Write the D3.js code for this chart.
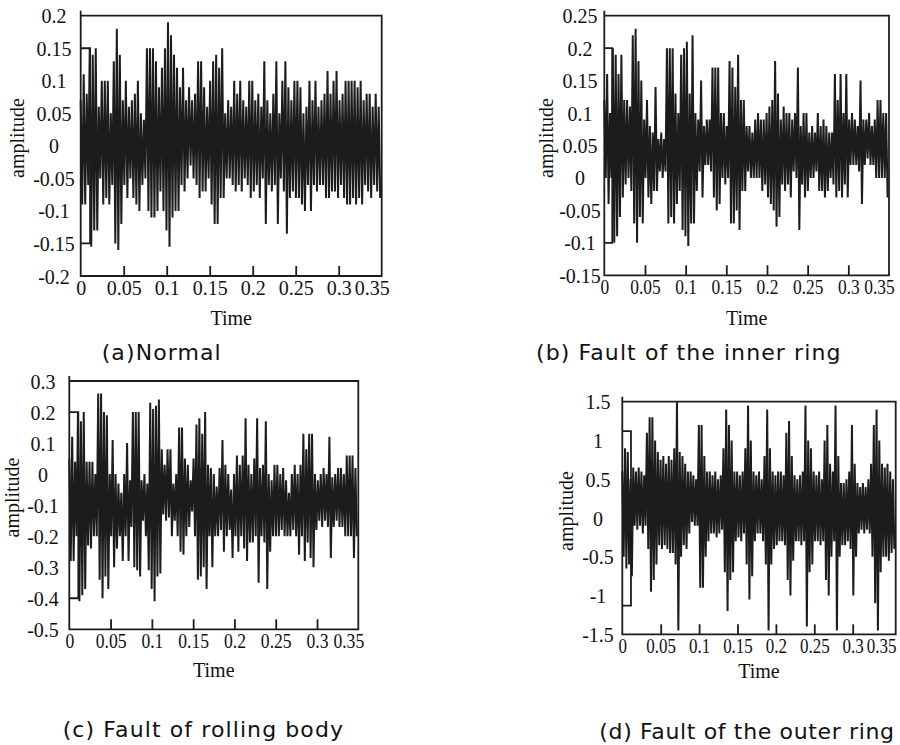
<!DOCTYPE html>
<html>
<head>
<meta charset="utf-8">
<script src="https://cdn.jsdelivr.net/npm/d3@7"></script>
<style>
  body { margin: 0; background: #fff; }
  svg { display: block; }
</style>
</head>
<body>
<div id="chart"></div>
<script>
// Signal envelopes, one hi/lo pair per column
const normalHi = [0.07,0.11,0.08,0.15,0.14,0.15,0.06,0.10,0.10,0.10, 0.05,0.13,0.18,0.14,0.07,0.10,0.06,0.07,0.08,0.10, 0.05,0.04,0.15,0.15,0.15,0.13,0.09,0.12,0.15,0.19, 0.17,0.14,0.12,0.09,0.12,0.07,0.09,0.07,0.08,0.13, 0.13,0.09,0.06,0.10,0.13,0.14,0.12,0.15,0.05,0.07, 0.06,0.10,0.08,0.10,0.07,0.06,0.10,0.10,0.07,0.08, 0.06,0.13,0.07,0.05,0.08,0.13,0.05,0.10,0.13,0.09, 0.07,0.10,0.10,0.09,0.05,0.06,0.10,0.07,0.10,0.06, 0.07,0.08,0.115,0.08,0.10,0.115,0.07,0.08,0.10,0.10, 0.10,0.10,0.09,0.10,0.07,0.08,0.08,0.06,0.08,0.06];
const normalLo = [-0.09,-0.09,-0.06,-0.155,-0.13,-0.13,-0.05,-0.09,-0.08,-0.09, -0.06,-0.15,-0.16,-0.12,-0.06,-0.08,-0.05,-0.08,-0.09,-0.10, -0.06,-0.05,-0.10,-0.11,-0.11,-0.10,-0.07,-0.10,-0.13,-0.155, -0.11,-0.10,-0.10,-0.06,-0.07,-0.05,-0.03,-0.05,-0.06,-0.08, -0.07,-0.07,-0.05,-0.09,-0.12,-0.12,-0.08,-0.08,-0.05,-0.05, -0.06,-0.07,-0.06,-0.07,-0.05,-0.06,-0.08,-0.07,-0.06,-0.08, -0.05,-0.12,-0.06,-0.07,-0.06,-0.12,-0.05,-0.07,-0.135,-0.08, -0.07,-0.08,-0.08,-0.09,-0.10,-0.06,-0.10,-0.06,-0.07,-0.06, -0.06,-0.08,-0.08,-0.07,-0.07,-0.08,-0.06,-0.08,-0.09,-0.09, -0.08,-0.09,-0.08,-0.09,-0.06,-0.07,-0.08,-0.06,-0.07,-0.08];

const innerHi = [0.12,0.16,0.10,0.20,0.19,0.16,0.19,0.12,0.12,0.11, 0.22,0.23,0.18,0.15,0.09,0.12,0.08,0.07,0.14,0.06, 0.07,0.06,0.20,0.20,0.20,0.13,0.10,0.19,0.20,0.21, 0.13,0.22,0.10,0.09,0.15,0.08,0.09,0.09,0.17,0.17, 0.17,0.10,0.10,0.08,0.18,0.17,0.14,0.19,0.12,0.12, 0.08,0.08,0.07,0.09,0.10,0.09,0.09,0.10,0.11,0.12, 0.18,0.13,0.09,0.11,0.10,0.10,0.09,0.10,0.17,0.08, 0.10,0.10,0.07,0.08,0.07,0.10,0.08,0.09,0.08,0.07, 0.07,0.16,0.12,0.16,0.10,0.16,0.09,0.10,0.09,0.08, 0.15,0.09,0.09,0.10,0.08,0.09,0.12,0.12,0.10,0.10];
const innerLo = [0.00,-0.04,0.00,-0.10,-0.09,-0.06,-0.03,-0.01,0.00,-0.02, -0.07,-0.10,-0.06,-0.07,0.00,-0.03,-0.04,-0.02,-0.02,0.01, 0.00,0.01,-0.07,-0.06,-0.07,-0.04,-0.02,-0.08,-0.09,-0.105, -0.07,-0.07,-0.02,0.01,-0.03,0.02,0.02,0.01,-0.03,-0.05, -0.04,0.00,-0.01,0.00,-0.07,-0.07,-0.05,-0.08,-0.02,-0.02, 0.01,0.00,0.00,0.00,0.00,-0.02,-0.01,-0.03,-0.04,-0.05, -0.075,-0.06,-0.01,-0.02,-0.01,-0.03,0.01,0.00,-0.08,-0.01, -0.03,-0.02,0.00,0.00,0.01,-0.02,-0.02,-0.03,-0.02,0.00, -0.01,-0.03,-0.02,-0.03,-0.01,-0.03,0.02,0.02,0.02,0.01, -0.04,0.02,0.03,0.02,0.02,0.00,0.00,0.00,0.00,-0.03];

const rollingHi = [0.05,0.12,0.04,0.20,0.17,0.20,0.04,0.04,0.04,0.00, 0.26,0.26,0.20,0.19,0.00,0.11,0.00,-0.03,-0.06,0.00, 0.10,-0.02,0.20,0.20,0.20,-0.02,0.00,-0.03,0.23,0.21, 0.22,0.24,0.08,0.03,0.08,0.08,-0.03,0.00,0.15,0.15, 0.05,0.03,-0.02,0.05,0.16,0.18,0.13,0.20,0.03,0.02, 0.00,-0.04,0.02,0.11,0.03,0.00,-0.05,0.00,0.06,0.03, 0.06,0.18,0.03,0.00,0.05,0.18,0.02,0.03,0.17,0.00, -0.02,0.03,0.03,0.00,0.02,-0.02,-0.06,0.00,0.03,0.00, 0.03,0.13,0.08,0.13,0.13,0.00,-0.02,0.00,0.02,0.00, 0.12,-0.01,0.00,0.02,0.02,0.00,0.06,0.06,0.06,0.02];
const rollingLo = [-0.28,-0.28,-0.20,-0.41,-0.39,-0.37,-0.23,-0.24,-0.20,-0.20, -0.34,-0.40,-0.33,-0.37,-0.20,-0.30,-0.24,-0.20,-0.28,-0.20, -0.28,-0.17,-0.30,-0.31,-0.33,-0.15,-0.20,-0.31,-0.37,-0.41, -0.33,-0.32,-0.13,-0.15,-0.14,-0.20,-0.15,-0.20,-0.25,-0.26, -0.20,-0.17,-0.12,-0.20,-0.34,-0.33,-0.30,-0.37,-0.20,-0.30, -0.20,-0.20,-0.18,-0.25,-0.20,-0.18,-0.27,-0.20,-0.25,-0.20, -0.24,-0.28,-0.22,-0.22,-0.20,-0.35,-0.20,-0.22,-0.37,-0.25, -0.20,-0.20,-0.20,-0.18,-0.20,-0.20,-0.20,-0.18,-0.20,-0.26, -0.20,-0.28,-0.22,-0.27,-0.30,-0.18,-0.15,-0.17,-0.15,-0.17, -0.27,-0.17,-0.15,-0.17,-0.17,-0.20,-0.20,-0.20,-0.27,-0.20];

const outerHi = [0.60,0.90,0.85,0.50,0.65,0.60,0.65,0.60,0.55,1.10, 1.30,1.30,1.00,0.85,0.75,0.80,0.70,0.80,0.75,0.90, 1.50,0.85,0.80,0.70,0.60,0.60,0.55,0.50,1.20,1.20, 0.80,0.60,0.60,0.55,0.60,0.50,0.55,0.90,1.40,1.20, 1.00,0.60,0.60,0.55,0.60,0.90,1.45,1.00,0.60,0.55, 0.60,0.50,0.80,1.40,0.90,0.60,0.55,0.60,0.60,0.55, 1.10,1.25,0.80,0.55,0.50,0.55,0.60,1.45,1.00,0.90, 0.60,0.55,0.60,0.50,1.00,1.20,0.70,0.60,1.45,0.80, 0.45,0.45,0.50,0.60,1.20,0.70,0.45,0.40,0.45,0.40, 0.50,0.70,1.20,1.40,1.00,0.70,0.65,0.70,0.60,0.50];
const outerLo = [-0.50,-0.65,-0.60,-0.75,-0.10,-0.15,-0.10,-0.20,-0.10,-0.40, -0.95,-0.80,-0.60,-0.35,-0.40,-0.35,-0.40,-0.45,-0.45,-0.60, -1.45,-0.50,-0.35,-0.40,-0.20,-0.05,-0.10,-0.10,-0.90,-0.90, -0.50,-0.30,-0.20,-0.20,-0.25,-0.20,-0.15,-0.70,-1.20,-0.80, -0.70,-0.30,-0.25,-0.30,-0.20,-0.60,-1.05,-0.75,-0.30,-0.20, -0.20,-0.30,-0.60,-1.45,-0.60,-0.40,-0.35,-0.30,-0.30,-0.35, -0.80,-1.00,-0.55,-0.30,-0.30,-0.35,-0.30,-1.40,-0.70,-0.60, -0.30,-0.30,-0.35,-0.30,-0.80,-1.00,-0.50,-0.30,-1.45,-0.50, -0.35,-0.35,-0.30,-0.40,-1.00,-0.50,-0.20,-0.15,-0.20,-0.15, -0.20,-0.50,-1.10,-1.45,-0.70,-0.50,-0.50,-0.55,-0.45,-0.40];

// first-sample bracket: [top, bottom, end time]
const normalStart = [0.15, -0.15, 0.0109];
const innerStart = [0.20, -0.10, 0.0098];
const rollingStart = [0.20, -0.40, 0.0109];
const outerStart = [1.12, -1.13, 0.0113];

const timeTicks = [0, 0.05, 0.1, 0.15, 0.2, 0.25, 0.3, 0.35];
const normalTicks = [0.2, 0.15, 0.1, 0.05, 0, -0.05, -0.1, -0.15, -0.2];
const innerTicks = [0.25, 0.2, 0.15, 0.1, 0.05, 0, -0.05, -0.1, -0.15];
const rollingTicks = [0.3, 0.2, 0.1, 0, -0.1, -0.2, -0.3, -0.4, -0.5];
const outerTicks = [1.5, 1, 0.5, 0, -0.5, -1, -1.5];

const captions = ['(a)Normal', '(b) Fault of the inner ring', '(c) Fault of rolling body', '(d) Fault of the outer ring'];

const panels = [
  { hi: normalHi, lo: normalLo, start: normalStart, yTicks: normalTicks, yDom: [-0.2, 0.2], xMax: 0.35,
    box: { l: 80.7, r: 381.7, t: 15.7, b: 276 }, yLabX: 54, ampX: 24, ampY: 138, timeY: 325, xs: 1.0,
    capX: 101.7, capY: 359.5, capLs: 1.1 },
  { hi: innerHi, lo: innerLo, start: innerStart, yTicks: innerTicks, yDom: [-0.15, 0.25], xMax: 0.35,
    box: { l: 604.3, r: 889, t: 15.7, b: 275.3 }, yLabX: 580, ampX: 552.7, ampY: 138, timeY: 325, xs: 0.87,
    capX: 536, capY: 359.5, capLs: 1.1 },
  { hi: rollingHi, lo: rollingLo, start: rollingStart, yTicks: rollingTicks, yDom: [-0.5, 0.3], xMax: 0.35,
    box: { l: 69.3, r: 358.3, t: 381, b: 629.3 }, yLabX: 43, ampX: 19, ampY: 497.5, timeY: 676.5, xs: 0.88,
    capX: 62.7, capY: 737, capLs: 1.1 },
  { hi: outerHi, lo: outerLo, start: outerStart, yTicks: outerTicks, yDom: [-1.5, 1.5], xMax: 0.356,
    box: { l: 622.3, r: 895.7, t: 401.7, b: 634.3 }, yLabX: 598, ampX: 572.7, ampY: 511, timeY: 678, xs: 0.85,
    capX: 599.3, capY: 739, capLs: 0.65 }
];

const W = 900, H = 745;
const INK = '#1c1c1c';
const SERIF = '"Liberation Serif", "Times New Roman", serif';

const svg = d3.select('#chart').append('svg')
  .attr('width', W)
  .attr('height', H)
  .style('background', '#fff');

const fmt = d => String(+d.toFixed(2));

panels.forEach((p, k) => {
  const x = d3.scaleLinear().domain([0, p.xMax]).range([p.box.l, p.box.r]);
  const y = d3.scaleLinear().domain(p.yDom).range([p.box.b, p.box.t]);
  const g = svg.append('g');

  // signal: a zigzag between the column highs and lows
  const dt = p.xMax / p.hi.length;
  const pts = [];
  p.hi.forEach((h, i) => {
    pts.push([i * dt, h]);
    pts.push([(i + 0.5) * dt, p.lo[i]]);
  });
  const line = d3.line().x(d => x(d[0])).y(d => y(d[1]));
  g.append('path')
    .datum(pts)
    .attr('d', line)
    .attr('fill', 'none')
    .attr('stroke', INK)
    .attr('stroke-width', 2)
    .attr('stroke-linejoin', 'bevel');

  // first-sample bracket
  const [sTop, sBot, sEnd] = p.start;
  g.append('path')
    .attr('d', `M${x(0)},${y(sTop)}H${x(sEnd)}V${y(sBot)}H${x(0)}`)
    .attr('fill', 'none')
    .attr('stroke', INK)
    .attr('stroke-width', 1.8);

  // x axis with inward ticks
  const xAxis = g.append('g')
    .attr('transform', `translate(0,${p.box.b})`)
    .call(d3.axisBottom(x).tickValues(timeTicks).tickFormat(fmt).tickSizeInner(-10).tickSizeOuter(0).tickPadding(5));
  xAxis.select('.domain').remove();
  xAxis.selectAll('.tick line').attr('stroke', INK).attr('stroke-width', 1.8)
    .filter(d => d === 0 || d === 0.35).remove();
  xAxis.selectAll('.tick text')
    .attr('fill', '#111')
    .style('font-family', SERIF)
    .style('font-size', '20px')
    .attr('transform', d => `translate(${d === 0.35 ? -10 : 0},0) scale(${p.xs},1)`);

  // y axis labels (no tick marks)
  const yAxis = g.append('g')
    .attr('transform', `translate(${p.box.l},0)`)
    .call(d3.axisLeft(y).tickValues(p.yTicks).tickFormat(fmt).tickSize(0));
  yAxis.select('.domain').remove();
  yAxis.selectAll('.tick text')
    .attr('fill', '#111')
    .attr('text-anchor', 'middle')
    .attr('x', p.yLabX - p.box.l)
    .attr('dy', '0.35em')
    .style('font-family', SERIF)
    .style('font-size', '20px');

  // frame: left axis runs a little above the top border
  g.append('path')
    .attr('d', `M${p.box.l},${p.box.t - 5}V${p.box.b}H${p.box.r}V${p.box.t}H${p.box.l}`)
    .attr('fill', 'none')
    .attr('stroke', INK)
    .attr('stroke-width', 1.8);

  // axis titles
  g.append('text')
    .attr('x', (p.box.l + p.box.r) / 2)
    .attr('y', p.timeY)
    .attr('text-anchor', 'middle')
    .attr('fill', '#111')
    .style('font-family', SERIF)
    .style('font-size', '20px')
    .text('Time');

  g.append('text')
    .attr('transform', `translate(${p.ampX},${p.ampY}) rotate(-90)`)
    .attr('text-anchor', 'middle')
    .attr('fill', '#111')
    .style('font-family', SERIF)
    .style('font-size', '20px')
    .text('amplitude');

  // caption
  svg.append('text')
    .attr('x', p.capX)
    .attr('y', p.capY)
    .attr('fill', '#111')
    .style('font-family', '"DejaVu Sans", Verdana, sans-serif')
    .style('font-size', '22px')
    .style('letter-spacing', `${p.capLs}px`)
    .text(captions[k]);
});
</script>
</body>
</html>
